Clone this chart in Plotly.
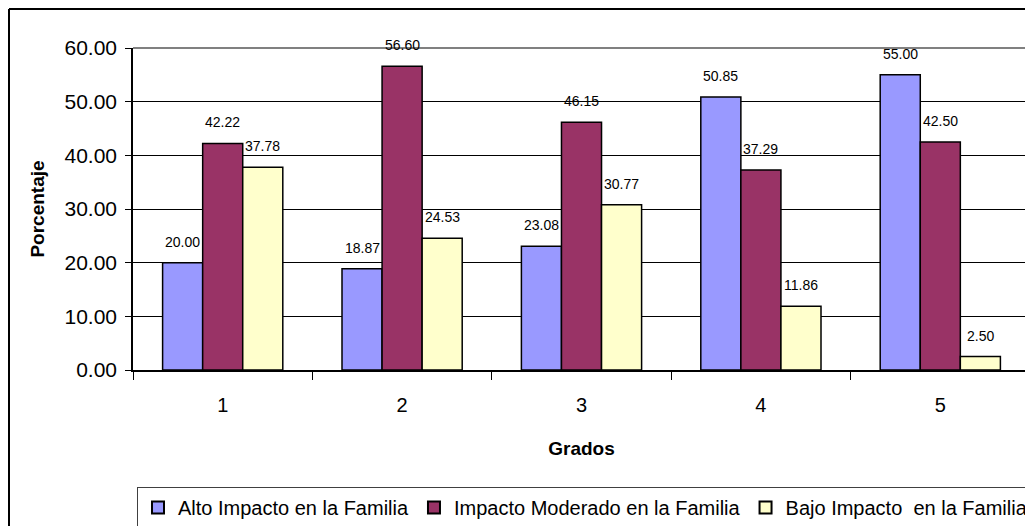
import plotly.graph_objects as go

# Datos
grados = ["1", "2", "3", "4", "5"]
alto = [20.00, 18.87, 23.08, 50.85, 55.00]
moderado = [42.22, 56.60, 46.15, 37.29, 42.50]
bajo = [37.78, 24.53, 30.77, 11.86, 2.50]

series = [
    ("Alto Impacto en la Familia", alto, "#9999FF"),
    ("Impacto Moderado en la Familia", moderado, "#993366"),
    ("Bajo Impacto  en la Familia", bajo, "#FFFFCC"),
]

# la página añade 8px de margen al cuerpo, así que la figura se compensa
W, H = 1025, 518
M_L, M_R, M_T, M_B = 125, 3, 40, 156
plot_w = W - M_L - M_R
plot_h = H - M_T - M_B
BARGAP = 0.33
bar_px = plot_w / len(grados) * (1 - BARGAP) / 3

FONT = "Liberation Sans, Arial, sans-serif"

fig = go.Figure()
for name, vals, color in series:
    fig.add_trace(go.Bar(
        x=grados, y=vals, name=name,
        marker=dict(color=color, line=dict(color="black", width=1.5)),
    ))

# Etiquetas de datos sobre cada barra
annotations = []
for i, (name, vals, color) in enumerate(series):
    for j, v in enumerate(vals):
        annotations.append(dict(
            x=j, y=v, xref="x", yref="y", text=f"{v:.2f}",
            showarrow=False, xshift=(i - 1) * bar_px, yshift=21,
            yanchor="middle", font=dict(family=FONT, size=14, color="black"),
        ))

# Borde exterior del gráfico (arriba e izquierda) y borde gris del área de trazado
bx = -(M_L - 1) / plot_w
by = 1 + (M_T - 1) / plot_h
shapes = [
    dict(type="line", xref="paper", yref="paper", x0=bx, x1=1.2, y0=by, y1=by,
         line=dict(color="black", width=2)),
    dict(type="line", xref="paper", yref="paper", x0=bx, x1=bx, y0=by, y1=-0.7,
         line=dict(color="black", width=2)),
    dict(type="line", xref="paper", yref="paper", x0=0, x1=1, y0=1, y1=1,
         line=dict(color="#808080", width=2), layer="above"),
    dict(type="line", xref="paper", yref="paper", x0=1, x1=1, y0=0, y1=1,
         line=dict(color="#808080", width=2), layer="above"),
]

fig.update_layout(
    width=W, height=H,
    margin=dict(l=M_L, r=M_R, t=M_T, b=M_B, autoexpand=False),
    barmode="group", bargap=BARGAP, bargroupgap=0,
    plot_bgcolor="white", paper_bgcolor="white",
    font=dict(family=FONT, color="black"),
    annotations=annotations, shapes=shapes,
    legend=dict(
        orientation="h", x=(129 - M_L) / plot_w, y=-(479 - M_T - plot_h) / plot_h,
        xanchor="left", yanchor="top",
        font=dict(family=FONT, size=20, color="black"),
        bordercolor="#404040", borderwidth=1, bgcolor="white",
        itemsizing="constant", tracegroupgap=0, itemwidth=30,
    ),
    xaxis=dict(
        type="category",
        title=dict(text="<b>Grados</b>", font=dict(size=19), standoff=27),
        tickfont=dict(size=20),
        showline=True, linecolor="black", linewidth=1.5,
        ticks="outside", tickson="boundaries", ticklen=8, tickcolor="black",
        ticklabelstandoff=16,
        showgrid=False,
    ),
    yaxis=dict(
        title=dict(text="<b>Porcentaje</b>", font=dict(size=19), standoff=15),
        range=[0, 60], dtick=10, tickformat=".2f",
        tickfont=dict(size=21),
        showline=True, linecolor="black", linewidth=1.5,
        ticks="outside", ticklen=6, tickcolor="black",
        ticklabelstandoff=4,
        showgrid=True, gridcolor="black", gridwidth=1,
        zeroline=False,
    ),
)

fig.write_html("out.html")
